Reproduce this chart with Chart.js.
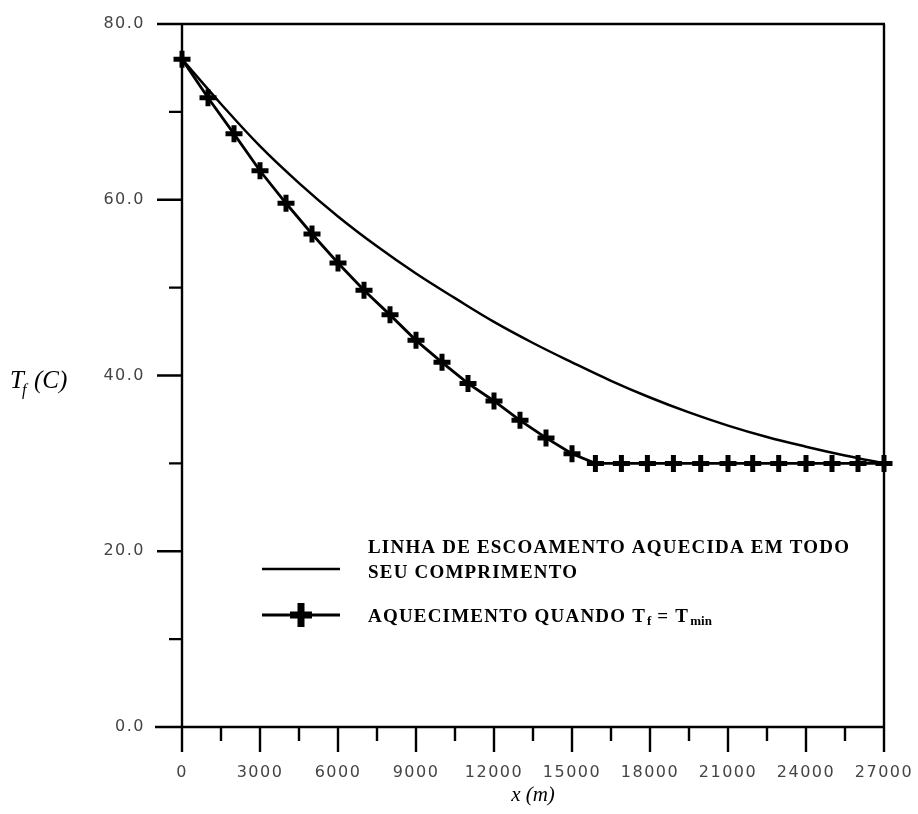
<!DOCTYPE html>
<html>
<head>
<meta charset="utf-8">
<script src="https://cdn.jsdelivr.net/npm/chart.js@4.4.0/dist/chart.umd.min.js"></script>
<style>
  html, body { margin: 0; padding: 0; background: #fff; }
</style>
</head>
<body>
<canvas id="myChart" width="918" height="814"></canvas>
<script>
// line heated along its whole length
const fullX = [0, 1500, 3000, 4500, 6000, 7500, 9000, 10500, 12000, 13500, 15000, 16500, 18000, 19500, 21000, 22500, 24000, 25500, 27000];
const fullT = [76.0, 70.9, 66.1, 61.9, 58.1, 54.7, 51.6, 48.8, 46.1, 43.7, 41.5, 39.4, 37.5, 35.8, 34.3, 33.0, 31.9, 30.9, 30.0];

// heating only when Tf = Tmin
const minX = [0, 1000, 2000, 3000, 4000, 5000, 6000, 7000, 8000, 9000, 10000, 11000, 12000, 13000, 14000, 15000, 15900, 16900, 17900, 18900, 19950, 21000, 21950, 22950, 24000, 25000, 26000, 27000];
const minT = [76.0, 71.6, 67.5, 63.3, 59.6, 56.1, 52.8, 49.7, 46.9, 44.0, 41.5, 39.1, 37.1, 34.9, 32.9, 31.1, 30.0, 30.0, 30.0, 30.0, 30.0, 30.0, 30.0, 30.0, 30.0, 30.0, 30.0, 30.0];

const xTicks = [0, 3000, 6000, 9000, 12000, 15000, 18000, 21000, 24000, 27000];
const xMinorTicks = [1500, 4500, 7500, 10500, 13500, 16500, 19500, 22500, 25500];
const yTicks = [0, 20, 40, 60, 80];
const yTickLabels = ["0.0", "20.0", "40.0", "60.0", "80.0"];
const yMinorTicks = [10, 30, 50, 70];

const legendLine1 = ["LINHA DE ESCOAMENTO AQUECIDA EM TODO", "SEU COMPRIMENTO"];
const legendLine2 = ["AQUECIMENTO QUANDO T", "f", " = T", "min"];

function pts(xs, ys) {
  return xs.map((v, i) => ({ x: v, y: ys[i] }));
}

function text(ctx, s, x, y, font, spacing) {
  ctx.font = font;
  ctx.letterSpacing = (spacing || 0) + "px";
  ctx.fillText(s, x, y);
  const w = ctx.measureText(s).width;
  ctx.letterSpacing = "0px";
  return w;
}

// axes, frame, ticks, titles and the legend box
const framePlugin = {
  id: "frame",
  afterDraw(chart) {
    const { ctx, chartArea: a, scales } = chart;
    const xs = scales.x, ys = scales.y;
    ctx.save();
    ctx.strokeStyle = "#000";
    ctx.lineWidth = 2.4;
    ctx.lineCap = "butt";
    ctx.beginPath();
    ctx.moveTo(a.left - 25, a.top); ctx.lineTo(a.right + 1, a.top);
    ctx.moveTo(a.right, a.top); ctx.lineTo(a.right, a.bottom + 25);
    ctx.moveTo(a.left, a.top); ctx.lineTo(a.left, a.bottom + 23);
    ctx.moveTo(a.left - 27, a.bottom); ctx.lineTo(a.right, a.bottom);
    yTicks.forEach(v => {
      const p = ys.getPixelForValue(v);
      ctx.moveTo(a.left - 25, p); ctx.lineTo(a.left, p);
    });
    yMinorTicks.forEach(v => {
      const p = ys.getPixelForValue(v);
      ctx.moveTo(a.left - 13, p); ctx.lineTo(a.left, p);
    });
    xTicks.forEach(v => {
      const p = xs.getPixelForValue(v);
      ctx.moveTo(p, a.bottom); ctx.lineTo(p, a.bottom + 25);
    });
    xMinorTicks.forEach(v => {
      const p = xs.getPixelForValue(v);
      ctx.moveTo(p, a.bottom); ctx.lineTo(p, a.bottom + 14);
    });
    ctx.stroke();

    // tick labels
    ctx.fillStyle = "#444";
    ctx.textBaseline = "middle";
    ctx.textAlign = "right";
    yTicks.forEach((v, i) => {
      text(ctx, yTickLabels[i], a.left - 37, ys.getPixelForValue(v), "16px 'DejaVu Sans'", 1.5);
    });
    ctx.textAlign = "left";
    xTicks.forEach(v => {
      const s = String(v);
      ctx.font = "16px 'DejaVu Sans'";
      ctx.letterSpacing = "1.5px";
      const w = ctx.measureText(s).width;
      ctx.fillText(s, xs.getPixelForValue(v) - w / 2, a.bottom + 46);
      ctx.letterSpacing = "0px";
    });

    // axis titles
    ctx.fillStyle = "#000";
    ctx.textBaseline = "alphabetic";
    ctx.textAlign = "center";
    text(ctx, "x (m)", (a.left + a.right) / 2, 801, "italic 21px 'Liberation Serif'");
    ctx.textAlign = "left";
    text(ctx, "T", 10, 388, "italic 25px 'Liberation Serif'");
    text(ctx, "f", 22, 395, "italic 16px 'Liberation Serif'");
    text(ctx, "(C)", 34, 388, "italic 25px 'Liberation Serif'");

    // legend
    const lx = a.left + 80, tx = a.left + 186;
    ctx.lineWidth = 2.4;
    ctx.beginPath();
    ctx.moveTo(lx, 569); ctx.lineTo(lx + 78, 569);
    ctx.stroke();
    const bf = "bold 19px 'Liberation Serif'";
    text(ctx, legendLine1[0], tx, 553, bf, 1.2);
    text(ctx, legendLine1[1], tx, 578, bf, 1.2);

    ctx.lineWidth = 3;
    ctx.beginPath();
    ctx.moveTo(lx, 615); ctx.lineTo(lx + 78, 615);
    ctx.stroke();
    ctx.lineWidth = 7;
    ctx.beginPath();
    ctx.moveTo(lx + 28, 615); ctx.lineTo(lx + 50, 615);
    ctx.moveTo(lx + 39, 603); ctx.lineTo(lx + 39, 627);
    ctx.stroke();

    let cx = tx;
    cx += text(ctx, legendLine2[0], cx, 622, bf, 1.2);
    cx += text(ctx, legendLine2[1], cx + 1, 625, "bold 13px 'Liberation Serif'") + 1;
    cx += text(ctx, legendLine2[2], cx, 622, bf, 1.2);
    text(ctx, legendLine2[3], cx + 1, 625, "bold 13px 'Liberation Serif'");
    ctx.restore();
  }
};

const ctx = document.getElementById("myChart");
const myChart = new Chart(ctx, {
  type: "line",
  data: {
    datasets: [
      {
        label: "LINHA DE ESCOAMENTO AQUECIDA EM TODO SEU COMPRIMENTO",
        data: pts(fullX, fullT),
        borderColor: "#000",
        borderWidth: 2.5,
        pointRadius: 0,
        tension: 0.4,
        clip: false,
      },
      {
        label: "AQUECIMENTO QUANDO Tf = Tmin",
        data: pts(minX, minT),
        borderColor: "#000",
        backgroundColor: "#000",
        borderWidth: 2.8,
        pointStyle: "cross",
        pointRadius: 8.5,
        pointBorderWidth: 5,
        pointBorderColor: "#000",
        tension: 0,
        clip: false,
      },
    ],
  },
  options: {
    responsive: false,
    animation: false,
    devicePixelRatio: 1,
    layout: { padding: { left: 182, right: 34, top: 24, bottom: 87 } },
    scales: {
      x: { type: "linear", min: 0, max: 27000, display: false },
      y: { type: "linear", min: 0, max: 80, display: false },
    },
    plugins: {
      legend: { display: false },
      tooltip: { enabled: false },
    },
  },
  plugins: [framePlugin],
});
</script>
</body>
</html>
